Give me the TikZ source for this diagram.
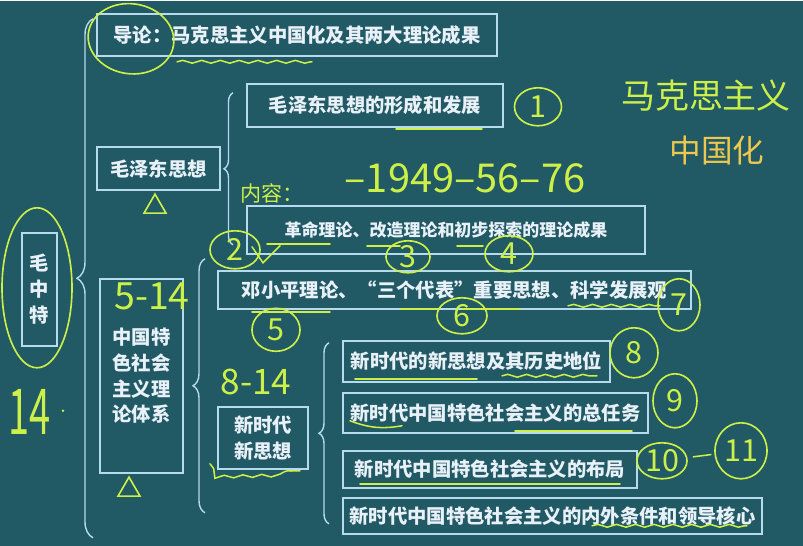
\documentclass[tikz,border=0pt]{standalone}
\usepackage{fontspec}
\newfontfamily\cjk{Noto Sans CJK SC}
\usetikzlibrary{shapes.geometric, decorations.pathreplacing, decorations.pathmorphing}
\definecolor{board}{RGB}{33,89,101}
\definecolor{chalk}{RGB}{182,218,238}
\definecolor{boardtext}{RGB}{232,240,248}
\definecolor{marker}{RGB}{204,240,72}
\definecolor{markerorange}{RGB}{238,200,78}

\begin{document}
\begin{tikzpicture}[
    x=0.03cm, y=-0.03cm,
    box/.style={draw=chalk, line width=1.5pt, text=boardtext, inner sep=0pt, align=center, font=\cjk\bfseries\fontsize{16.5}{22}\selectfont},
    bracket/.style={draw=chalk, line width=1.2pt, decorate, decoration={brace, amplitude=#1}},
    ring/.style={ellipse, draw=marker, line width=1.4pt, inner sep=0pt},
    handnum/.style={ring, text=marker, font=\cjk\fontsize{26}{26}\selectfont},
    handtext/.style={text=marker, inner sep=0pt, font=\cjk\fontsize{#1}{#1}\selectfont},
    handline/.style={draw=marker, line width=1.3pt, line cap=round},
    wavy/.style={handline, decorate, decoration={snake, segment length=16, amplitude=1.2}},
    tri/.style={regular polygon, regular polygon sides=3, draw=marker, line width=1.4pt, minimum size=0.76cm, inner sep=0pt}
]
\fill[board] (0,0) rectangle (803,545);

% boxes
\node[box, minimum width=12cm, minimum height=1.26cm] (intro) at (297,34) {导论：马克思主义中国化及其两大理论成果};
\node[box, minimum width=1.05cm, minimum height=3.39cm] (mzt) at (39.5,288.5) {毛\\中\\特};
\node[box, minimum width=3.69cm, minimum height=1.29cm] (mao) at (158.5,168) {毛泽东思想};
\node[box, minimum width=7.68cm, minimum height=1.29cm] (maoForm) at (375,104.5) {毛泽东思想的形成和发展};
\node[box, minimum width=11.94cm, minimum height=1.44cm, font=\cjk\bfseries\fontsize{14.5}{18}\selectfont] (maoTheory) at (446,229) {革命理论、改造理论和初步探索的理论成果};
\node[box, minimum width=2.49cm, minimum height=5.82cm] (socialism) at (141.5,375) {中国特\\色社会\\主义理\\论体系};
\node[box, minimum width=14.19cm, minimum height=1.14cm] (deng) at (454.5,289) {邓小平理论、“三个代表”重要思想、科学发展观};
\node[box, minimum width=2.7cm, minimum height=1.86cm] (newEra) at (263,437) {新时代\\新思想};
\node[box, minimum width=8.01cm, minimum height=1.23cm] (eraA) at (476.5,360.5) {新时代的新思想及其历史地位};
\node[box, minimum width=9.15cm, minimum height=1.2cm] (eraB) at (495.5,412) {新时代中国特色社会主义的总任务};
\node[box, minimum width=8.82cm, minimum height=1.11cm] (eraC) at (490,468.5) {新时代中国特色社会主义的布局};
\node[box, minimum width=12.57cm, minimum height=1.08cm] (eraD) at (552.5,515) {新时代中国特色社会主义的内外条件和领导核心};

% braces
\coordinate (outerTop) at (93,18);
\coordinate (outerBot) at (93,537);
\coordinate (maoTop) at (233,92);
\coordinate (maoBot) at (233,244);
\coordinate (socTop) at (205,258);
\coordinate (socBot) at (205,512);
\coordinate (eraTop) at (329,342);
\coordinate (eraBot) at (329,523);
\draw[bracket=0.48cm] (outerBot) -- (outerTop);
\draw[bracket=0.27cm] (maoBot) -- (maoTop);
\draw[bracket=0.36cm] (socBot) -- (socTop);
\draw[bracket=0.3cm] (eraBot) -- (eraTop);

% handwritten notes
\node[ring, minimum width=2.58cm, minimum height=2.1cm, rotate=-8] (introRing) at (131,38) {};
\node[ring, minimum width=2.1cm, minimum height=4.8cm] (mztRing) at (37,287) {};
\draw[wavy] (177,61) -- (312,61);
\draw[handline] (396,128) -- (482,128);

\node[handnum, minimum width=1.41cm, minimum height=1.14cm] (n1) at (538,106) {1};
\node[handtext=29] (marx) at (706,95) {马克思主义};
\node[handtext=27, text=markerorange] (sinic) at (717,150) {中国化};
\node[handtext=18] (content) at (272,193) {内容：};
\node[handtext=34] (years) at (465,178) {–1949–56–76};
\node[tri] (maoMark) at (155,206) {};

\node[handnum, minimum width=1.5cm, minimum height=1.14cm] (n2) at (235,249) {2};
\draw[handline] (252,246) -- (263,262) -- (280,245);
\draw[handline] (267,243) -- (330,243);
\draw[handline] (367,245) -- (400,245);
\draw[handline] (457,245) -- (483,245);
\node[handnum, minimum width=1.32cm, minimum height=0.96cm] (n3) at (408,256) {3};
\node[handnum, minimum width=1.44cm, minimum height=1.08cm] (n4) at (509,253) {4};

\node[handtext=32] (range514) at (152,296) {5-14};
\draw[handline] (252,311) -- (330,311);
\draw[handline] (400,308) -- (437,308);
\draw[handline] (462,308) -- (520,308);
\draw[wavy] (568,305) -- (660,305);
\node[handnum, minimum width=1.44cm, minimum height=1.29cm] (n5) at (276,329) {5};
\node[handnum, minimum width=1.5cm, minimum height=1.08cm] (n6) at (462,315) {6};
\node[handnum, minimum width=1.26cm, minimum height=1.56cm] (n7) at (679,304) {7};

\node[handtext=30] (range814) at (256,381) {8-14};
\node[handtext=54] (total) at (30,411) {\scalebox{0.6}[1]{14}};
\node[circle, fill=marker, inner sep=0.8pt] (totalDot) at (63,410) {};
\node[tri] (socMark) at (129,489) {};
\draw[wavy] (210,463) -- (214,472) -- (300,470);

\draw[handline] (355,378) -- (477,378);
\draw[wavy] (502,375) -- (597,375);
\node[handnum, minimum width=1.44cm, minimum height=1.5cm] (n8) at (634,352) {8};
\draw[handline] (350,420) to[bend right=15] (402,425);
\draw[handline] (515,430) -- (632,430);
\node[handnum, minimum width=1.32cm, minimum height=1.62cm] (n9) at (675,400) {9};
\draw[handline] (360,483) -- (620,483);
\node[handnum, minimum width=1.5cm, minimum height=1.08cm] (n10) at (662,460) {10};
\node[handnum, minimum width=1.56cm, minimum height=1.68cm] (n11) at (741,450) {11};
\draw[handline, shorten <=5pt, shorten >=3pt] (n10) -- (n11);
\draw[wavy] (592,525) -- (747,525);
\end{tikzpicture}
\end{document}
